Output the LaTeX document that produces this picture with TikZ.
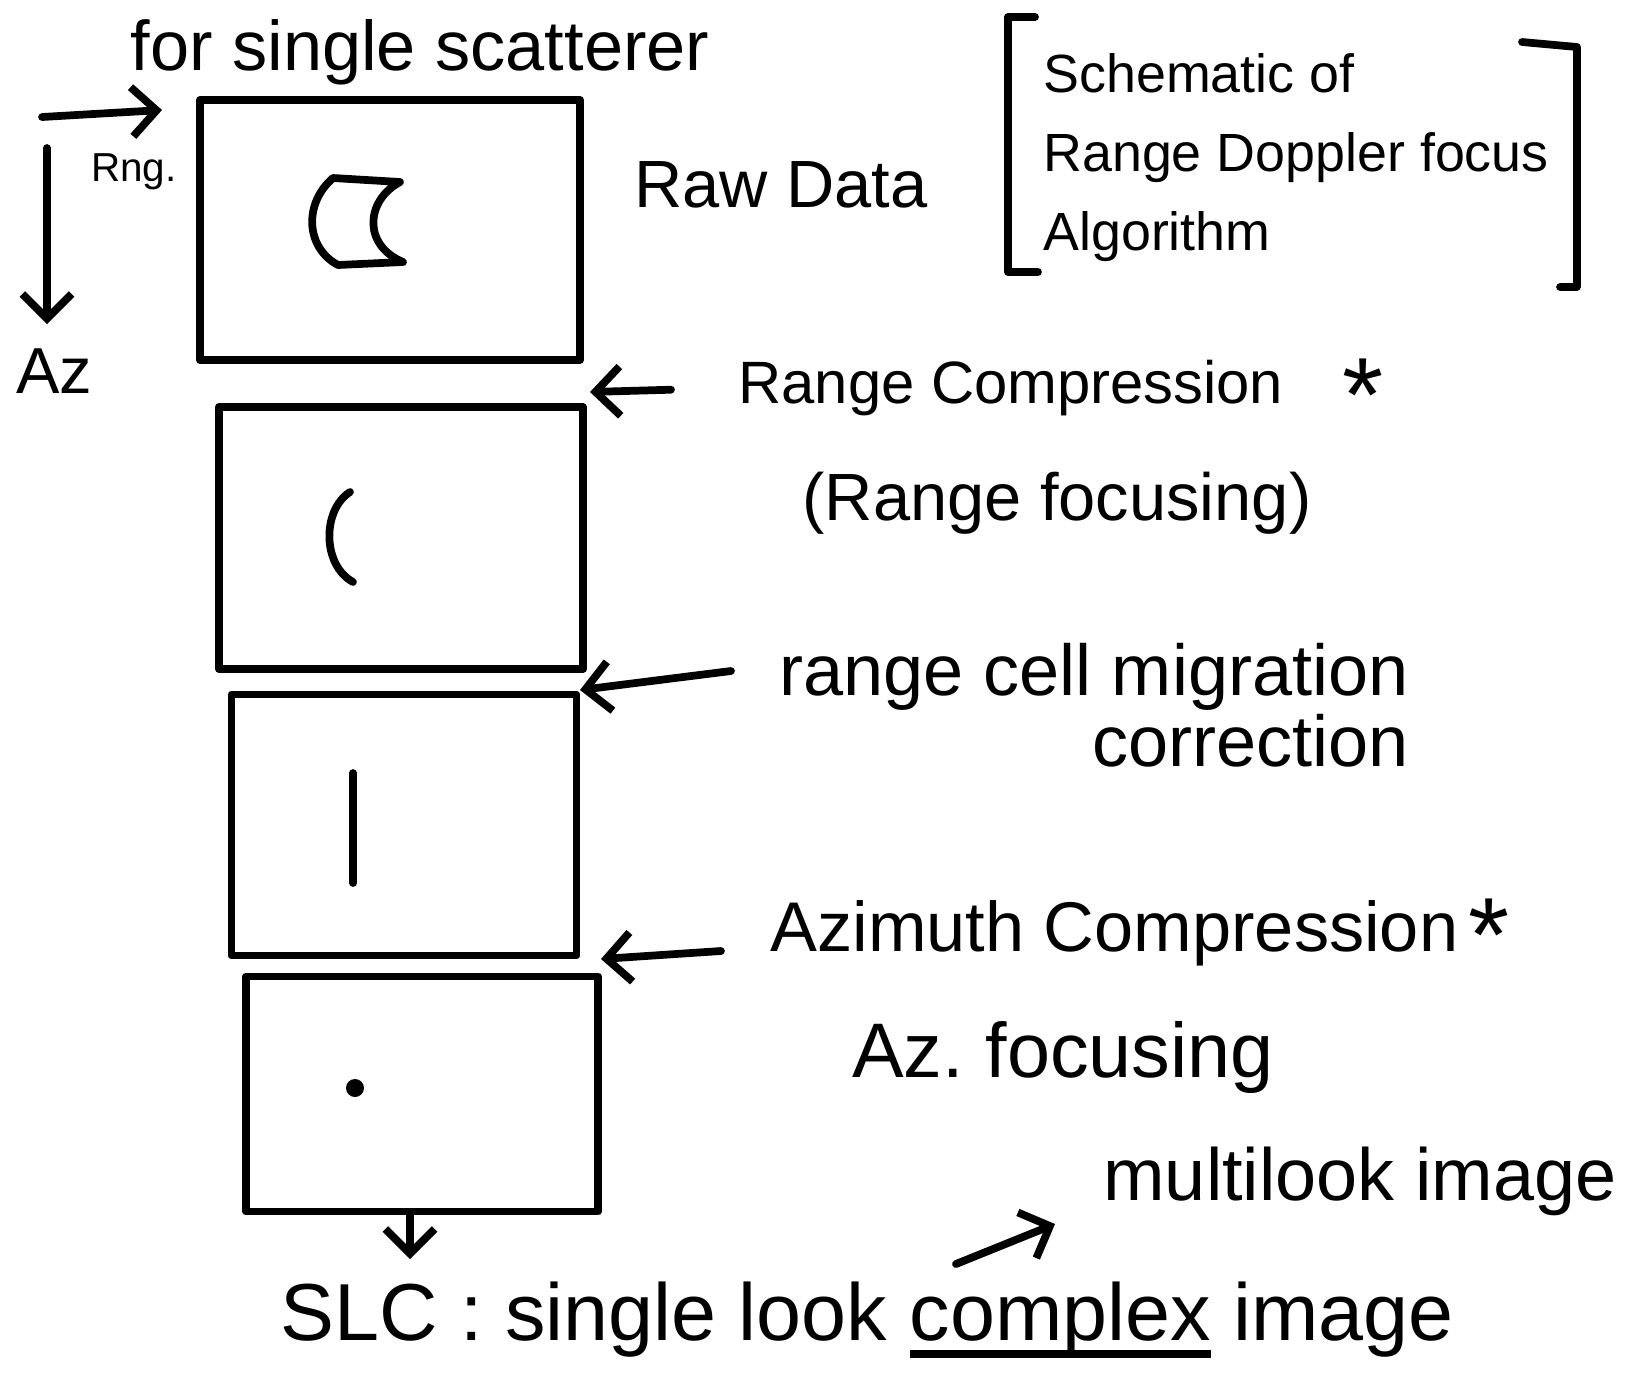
\documentclass[tikz,border=0pt]{standalone}
\usepackage{fontspec}
\setmainfont{Liberation Sans}
\usetikzlibrary{arrows.meta,positioning}
\tikzstyle{frame} = [rectangle, draw, line width=2.2pt, inner sep=0pt]
\tikzstyle{note} = [inner sep=1pt, font=\fontsize{17}{23}\selectfont]
\tikzstyle{tag} = [inner sep=1pt, font=\fontsize{20}{26}\selectfont]
\newcommand{\heavyul}[1]{\leavevmode\setbox0\hbox{#1}\rlap{\rule[-5pt]{\wd0}{2.2pt}}\box0\relax}

\begin{document}
\begin{tikzpicture}[x=0.01cm,y=-0.01cm,>={Straight Barb[length=7pt,width=14pt]},line width=2.2pt,line cap=round,line join=round]
    \useasboundingbox (0,0) rectangle (1638,1396);

        % the four data frames
        \node[frame, minimum width=3.8cm, minimum height=2.6cm] (Raw) at (390,230) {};
        \node[frame, minimum width=3.64cm, minimum height=2.62cm] (RngComp) at (401,538) {};
        \node[frame, minimum width=3.45cm, minimum height=2.61cm] (Rcmc) at (404,825) {};
        \node[frame, minimum width=3.52cm, minimum height=2.35cm] (AzComp) at (422,1094) {};

        % scatterer in each frame
        \draw (333,178) -- (400,182) .. controls (366,200) and (362,245) .. (403,262) -- (338,265) .. controls (306,248) and (303,204) .. (333,178);
        \draw (350,492) .. controls (322,510) and (322,565) .. (353,582);
        \draw (353,773) -- (353,883);
        \fill (355,1088) circle (9);

        % axes
        \coordinate (rngfrom) at (42,117);
        \coordinate (rngto) at (162,110);
        \coordinate (azfrom) at (47,148);
        \coordinate (azto) at (47,324);
        \draw[->] (rngfrom) -- (rngto);
        \draw[->] (azfrom) -- (azto);
        \node[inner sep=1pt, font=\fontsize{11.5}{14}\selectfont] (RngLbl) at (134,172) {Rng.};
        \node[inner sep=1pt, font=\fontsize{18.5}{22}\selectfont] (AzLbl) at (54,371) {Az};

        \node[tag] (Single) at (420,52) {for single scatterer};
        \node[inner sep=1pt, font=\fontsize{19}{23}\selectfont, anchor=west] (RawLbl) at (627,185) {Raw Data};

        % title in brackets
        \node[inner sep=1pt, font=\fontsize{15.3}{22.5}\selectfont, align=left, anchor=north west] (Title) at (1036,46) {Schematic of\\Range Doppler focus\\Algorithm};
        \draw (1035,17) -- (1008,17) -- (1008,272) -- (1038,272);
        \draw (1522,42) -- (1577,47) -- (1577,287) -- (1560,287);

        % processing steps
        \node[note, anchor=west] (RcLbl) at (731,388) {Range Compression};
        \node[inner sep=1pt, font=\fontsize{30}{30}\selectfont] (RcStar) at (1363,395) {*};
        \node[inner sep=1pt, font=\fontsize{19}{23}\selectfont] (RfLbl) at (1057,503) {(Range focusing)};
        \node[inner sep=1pt, font=\fontsize{20.5}{19}\selectfont, align=right, anchor=north east] (RcmLbl) at (1416,636) {range cell migration\\correction};
        \node[tag, anchor=west] (AcLbl) at (763,933) {Azimuth Compression};
        \node[inner sep=1pt, font=\fontsize{30}{30}\selectfont] (AcStar) at (1489,935) {*};
        \node[inner sep=1pt, font=\fontsize{22}{26}\selectfont] (AfLbl) at (1063,1057) {Az.\ focusing};

        \coordinate (gap1) at (590,392);
        \coordinate (gap2from) at (731,671);
        \coordinate (gap2) at (580,690);
        \coordinate (gap3from) at (721,951);
        \coordinate (gap3) at (601,959);
        \draw[->, shorten <=0.6cm] (RcLbl.west) -- (gap1);
        \draw[->] (gap2from) -- (gap2);
        \draw[->] (gap3from) -- (gap3);

        % output
        \node[inner sep=1pt, font=\fontsize{23}{28}\selectfont] (Slc) at (867,1320) {SLC : single look \heavyul{complex} image};
        \node[inner sep=1pt, font=\fontsize{21}{26}\selectfont] (Multi) at (1360,1181) {multilook image};
        \coordinate (slcin) at (410,1259);
        \draw[->] (slcin |- AzComp.south) -- (slcin);
        \coordinate (mlfrom) at (956,1264);
        \coordinate (mlto) at (1055,1224);
        \draw[->] (mlfrom) -- (mlto);
\end{tikzpicture}
\end{document}
